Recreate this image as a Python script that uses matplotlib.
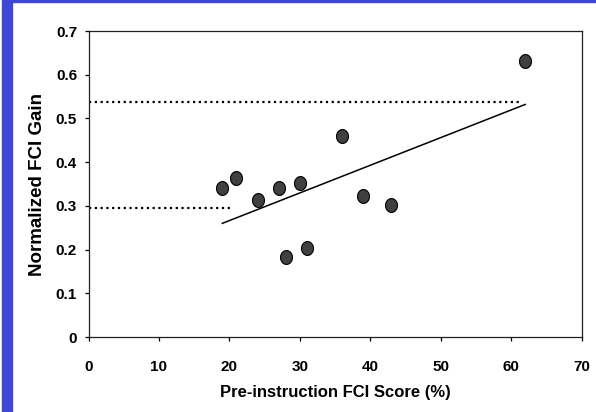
import numpy as np
import matplotlib
matplotlib.use("Agg")
import matplotlib.pyplot as plt
from matplotlib.path import Path
from matplotlib.patches import Rectangle

plt.rcParams['font.family'] = ['Liberation Sans', 'DejaVu Sans']
plt.rcParams['font.weight'] = 'bold'

# data
pre_score = [19, 21, 24, 27, 28, 30, 31, 36, 39, 43, 62]
fci_gain = [0.34, 0.363, 0.313, 0.34, 0.184, 0.353, 0.204, 0.46, 0.323, 0.302, 0.632]

trend_x = [19, 62]
trend_y = [0.26, 0.532]

upper_avg_x = [0, 61.4]
upper_avg_y = [0.538, 0.538]
lower_avg_x = [0, 20.1]
lower_avg_y = [0.294, 0.294]

xticks = [0, 10, 20, 30, 40, 50, 60, 70]
yticks = [0, 0.1, 0.2, 0.3, 0.4, 0.5, 0.6, 0.7]
ytick_labels = ["0", "0.1", "0.2", "0.3", "0.4", "0.5", "0.6", "0.7"]

fig = plt.figure(figsize=(5.96, 4.12), dpi=100)
ax = fig.add_axes([0.1485, 0.182, 0.8272, 0.7427])

# slide decoration: blue bar left, thin blue line on top
blue = '#3f48d6'
fig.patches.append(Rectangle((2 / 596, 0), 10 / 596, 1, transform=fig.transFigure,
                             color=blue, zorder=0))
fig.patches.append(Rectangle((12 / 596, 1 - 2 / 412), 1, 2 / 412, transform=fig.transFigure,
                             color=blue, zorder=0))

# ellipse marker, a bit taller than wide
t = np.linspace(0, 2 * np.pi, 60)
ell = Path(np.column_stack([0.43 * np.cos(t), 0.5 * np.sin(t)]), closed=True)

ax.plot(upper_avg_x, upper_avg_y, color='black', lw=1.6, ls=(0, (1, 1.6)))
ax.plot(lower_avg_x, lower_avg_y, color='black', lw=1.6, ls=(0, (1, 1.6)))
ax.plot(trend_x, trend_y, color='black', lw=1.1)
ax.scatter(pre_score, fci_gain, marker=ell, s=10 ** 2, facecolor='#404040',
           edgecolor='black', linewidths=0.8, zorder=3)

ax.set_xlim(0, 70)
ax.set_ylim(0, 0.7)
ax.set_xticks(xticks)
ax.set_yticks(yticks)
ax.set_yticklabels(ytick_labels)
ax.tick_params(axis='x', direction='out', length=3.2, width=0.9, pad=13, labelsize=11)
ax.tick_params(axis='y', direction='out', length=3.2, width=0.9, pad=5, labelsize=11)
for s in ax.spines.values():
    s.set_linewidth(0.9)
    s.set_color('#202020')

ax.set_xlabel("Pre-instruction FCI Score (%)", fontsize=12, fontweight='bold', labelpad=8)
ax.set_ylabel("Normalized FCI Gain", fontsize=13.5, fontweight='bold', labelpad=7)

fig.savefig("out.png", dpi=100)
